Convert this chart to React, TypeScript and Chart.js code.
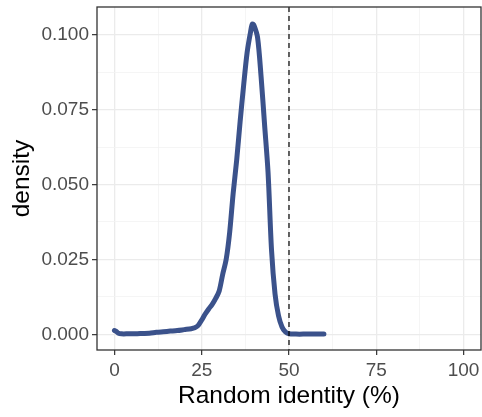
import React, { useEffect, useRef } from "react";
import { Chart, registerables } from "chart.js";

Chart.register(...registerables);

const identityPct = [0, 0.5, 1, 2, 4, 6, 8, 10, 12, 14, 16, 18, 20, 22, 23, 24, 25, 26, 27, 28, 29, 30, 31, 32, 33, 34, 35, 36, 37, 38, 39, 39.5, 40, 41, 42, 43, 44, 45, 46, 47, 48, 49, 50, 52, 55, 58, 60];
const density = [0.0013, 0.001, 0.0005, 0.0002, 0.0002, 0.0002, 0.0003, 0.0004, 0.0007, 0.0009, 0.0011, 0.0013, 0.0016, 0.0019, 0.0022, 0.003, 0.0048, 0.0068, 0.0085, 0.01, 0.012, 0.0145, 0.02, 0.025, 0.034, 0.047, 0.058, 0.071, 0.083, 0.094, 0.101, 0.1035, 0.103, 0.099, 0.086, 0.07, 0.054, 0.028, 0.0135, 0.0062, 0.0025, 0.0008, 0.0002, 0.0001, 0.0001, 0.0001, 0.0001];

const xMajorTicks = [0, 25, 50, 75, 100];
const xMinorTicks = [12.5, 37.5, 62.5, 87.5];
const yMajorTicks = [0, 0.025, 0.05, 0.075, 0.1];
const yMinorTicks = [0.0125, 0.0375, 0.0625, 0.0875];
const thresholdX = 50;

const xTitle = "Random identity (%)";
const yTitle = "density";

const FONT = "'Liberation Sans', Arial, sans-serif";

export default function App() {
  const ref = useRef<HTMLCanvasElement | null>(null);

  useEffect(() => {
    document.body.style.margin = "0";
    const canvas = ref.current!;
    const isMinor = (list: number[], v: number) => list.some((m) => Math.abs(m - v) < 1e-9);

    const framePlugin = {
      id: "frame",
      afterDatasetsDraw(chart: any) {
        const { ctx, chartArea, scales } = chart;
        const px = scales.x.getPixelForValue(thresholdX);
        ctx.save();
        ctx.strokeStyle = "#000000";
        ctx.lineWidth = 1.2;
        ctx.setLineDash([5, 4]);
        ctx.beginPath();
        ctx.moveTo(px, chartArea.top);
        ctx.lineTo(px, chartArea.bottom);
        ctx.stroke();
        ctx.restore();
      },
      afterDraw(chart: any) {
        const { ctx, chartArea } = chart;
        ctx.save();
        ctx.strokeStyle = "#333333";
        ctx.lineWidth = 1.3;
        ctx.strokeRect(chartArea.left, chartArea.top, chartArea.right - chartArea.left, chartArea.bottom - chartArea.top);
        ctx.restore();
      },
    };

    const chart = new Chart(canvas, {
      type: "line",
      data: {
        datasets: [
          {
            data: identityPct.map((x, i) => ({ x, y: density[i] })),
            borderColor: "#3B528B",
            borderWidth: 5,
            pointRadius: 0,
            tension: 0.3,
            fill: false,
            borderCapStyle: "round",
            borderJoinStyle: "round",
          },
        ],
      },
      options: {
        responsive: false,
        animation: false,
        layout: { padding: { top: 7, right: 1, bottom: 0, left: 0 } },
        plugins: { legend: { display: false }, tooltip: { enabled: false } },
        scales: {
          x: {
            type: "linear",
            min: -5,
            max: 105,
            afterBuildTicks: (scale: any) => {
              scale.ticks = [...xMajorTicks, ...xMinorTicks].sort((a, b) => a - b).map((v) => ({ value: v }));
            },
            afterFit: (scale: any) => {
              scale.height = 67;
              scale.paddingLeft = 0;
              scale.paddingRight = 0;
            },
            ticks: {
              autoSkip: false,
              maxRotation: 0,
              padding: 4,
              color: "#4D4D4D",
              font: { family: FONT, size: 19 },
              callback: (v: any) => (isMinor(xMinorTicks, Number(v)) ? "" : String(v)),
            },
            grid: {
              color: (c: any) => (isMinor(xMinorTicks, c.tick?.value) ? "#F2F2F2" : "#EBEBEB"),
              lineWidth: (c: any) => (isMinor(xMinorTicks, c.tick?.value) ? 0.8 : 1.3),
              tickColor: (c: any) => (isMinor(xMinorTicks, c.tick?.value) ? "rgba(0,0,0,0)" : "#333333"),
              tickLength: 5,
              tickWidth: 1.2,
            },
            border: { display: false },
            title: {
              display: true,
              text: xTitle,
              color: "#000000",
              font: { family: FONT, size: 24.5 },
              padding: { top: 0, bottom: 6 },
            },
          },
          y: {
            type: "linear",
            min: -0.0052,
            max: 0.1092,
            afterBuildTicks: (scale: any) => {
              scale.ticks = [...yMajorTicks, ...yMinorTicks].sort((a, b) => a - b).map((v) => ({ value: v }));
            },
            afterFit: (scale: any) => {
              scale.width = 97;
              scale.paddingTop = 0;
              scale.paddingBottom = 0;
            },
            ticks: {
              autoSkip: false,
              padding: 3,
              color: "#4D4D4D",
              font: { family: FONT, size: 19 },
              callback: (v: any) => (isMinor(yMinorTicks, Number(v)) ? "" : Number(v).toFixed(3)),
            },
            grid: {
              color: (c: any) => (isMinor(yMinorTicks, c.tick?.value) ? "#F2F2F2" : "#EBEBEB"),
              lineWidth: (c: any) => (isMinor(yMinorTicks, c.tick?.value) ? 0.8 : 1.3),
              tickColor: (c: any) => (isMinor(yMinorTicks, c.tick?.value) ? "rgba(0,0,0,0)" : "#333333"),
              tickLength: 5,
              tickWidth: 1.2,
            },
            border: { display: false },
            title: {
              display: true,
              text: yTitle,
              color: "#000000",
              font: { family: FONT, size: 24.5 },
              padding: { top: 8, bottom: 0 },
            },
          },
        },
      },
      plugins: [framePlugin],
    } as any);

    return () => chart.destroy();
  }, []);

  return (
    <div style={{ width: 482, height: 417, background: "#ffffff" }}>
      <canvas ref={ref} width={482} height={417} />
    </div>
  );
}
